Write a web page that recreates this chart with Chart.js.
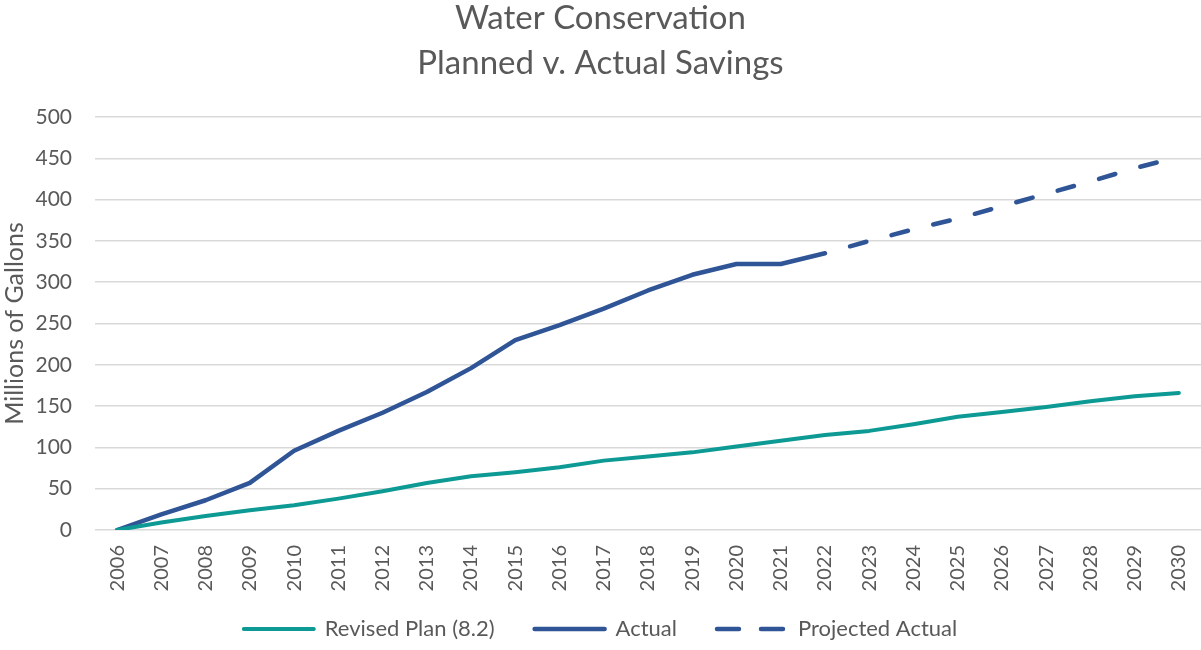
<!DOCTYPE html>
<html>
<head>
<meta charset="utf-8">
<title>Water Conservation</title>
<script src="https://cdn.jsdelivr.net/npm/chart.js@4/dist/chart.umd.min.js"></script>
<style>
  html, body { margin: 0; padding: 0; background: #fff; }
  #chart { display: block; }
</style>
</head>
<body>
<canvas id="chart" width="1201" height="650"></canvas>
<script>
const years = ['2006', '2007', '2008', '2009', '2010', '2011', '2012', '2013', '2014',
  '2015', '2016', '2017', '2018', '2019', '2020', '2021', '2022', '2023', '2024',
  '2025', '2026', '2027', '2028', '2029', '2030'];

// millions of gallons saved, cumulative
const revisedPlan = [0, 9, 17, 24, 30, 38, 47, 57, 65, 70, 76, 84, 89, 94, 101, 108, 115,
  120, 128, 137, 143, 149, 156, 162, 166];
const actual = [0, 19, 36, 57, 96, 120, 142, 167, 196, 230, 248, 268, 290, 309, 322, 322, 335];
const projected = [null, null, null, null, null, null, null, null, null, null, null, null,
  null, null, null, null, 335, 350, 364, 377, 392, 407, 422, 438, 452];

const yTicks = { min: 0, max: 500, step: 50 };

const grey = '#595959';
const teal = '#0E9A94';
const blue = '#2F5597';
const font = 'Lato';

// the legend wants wide gaps between entries but only a short box at the bottom,
// so shrink its reserved height and let its top reach back up by the same amount
const LEGEND_TRIM = 22;
const legendTrim = {
  id: 'legendTrim',
  beforeLayout(chart) {
    const lg = chart.legend;
    if (lg && !lg._trimmed) {
      const fit = lg.fit;
      lg.fit = function () {
        fit.call(this);
        this.height -= LEGEND_TRIM;
      };
      lg._trimmed = true;
    }
  },
  afterLayout(chart) {
    if (chart.legend) chart.legend.top -= LEGEND_TRIM;
  }
};

const ctx = document.getElementById('chart');

new Chart(ctx, {
  type: 'line',
  data: {
    labels: years,
    datasets: [
      {
        label: 'Revised Plan (8.2)',
        data: revisedPlan,
        borderColor: teal,
        backgroundColor: teal,
        borderWidth: 4,
        borderCapStyle: 'round',
        borderJoinStyle: 'round',
        pointRadius: 0,
        pointStyle: 'line',
        tension: 0
      },
      {
        label: 'Actual',
        data: actual,
        borderColor: blue,
        backgroundColor: blue,
        borderWidth: 4.5,
        borderCapStyle: 'round',
        borderJoinStyle: 'round',
        pointRadius: 0,
        pointStyle: 'line',
        tension: 0
      },
      {
        label: 'Projected Actual',
        data: projected,
        borderColor: blue,
        backgroundColor: blue,
        borderWidth: 4.5,
        borderDash: [17, 26],
        borderDashOffset: 17,
        borderCapStyle: 'round',
        pointRadius: 0,
        pointStyle: 'line',
        tension: 0
      }
    ]
  },
  plugins: [legendTrim],
  options: {
    responsive: false,
    animation: false,
    layout: { padding: 0 },
    plugins: {
      tooltip: { enabled: false },
      title: {
        display: true,
        text: ['Water Conservation', 'Planned v. Actual Savings'],
        color: grey,
        font: { family: font, size: 33, weight: 'normal', lineHeight: 1.364 },
        padding: { top: -4, bottom: 31 }
      },
      legend: {
        position: 'bottom',
        labels: {
          color: grey,
          font: { family: font, size: 22 },
          usePointStyle: true,
          pointStyleWidth: 70,
          padding: 40,
          // legend swatches drawn as short strokes in each series' own line style
          generateLabels(chart) {
            const items = Chart.defaults.plugins.legend.labels.generateLabels(chart);
            items.forEach(item => {
              const ds = chart.data.datasets[item.datasetIndex];
              item.lineWidth = ds.borderWidth;
              item.strokeStyle = ds.borderColor;
              item.lineCap = 'round';
              item.lineDash = ds.borderDash ? [22, 22] : [];
              item.lineDashOffset = 0;
            });
            return items;
          }
        }
      }
    },
    scales: {
      x: {
        grid: { display: false, drawTicks: false },
        border: { display: false },
        offset: true,
        ticks: {
          color: grey,
          font: { family: font, size: 20 },
          minRotation: 90,
          maxRotation: 90,
          padding: 15,
          autoSkip: false
        },
        afterFit(scale) {
          scale.height = 70;
          scale.paddingLeft = 0;
          scale.paddingRight = 0;
        }
      },
      y: {
        min: yTicks.min,
        max: yTicks.max,
        grid: { color: '#D9D9D9', lineWidth: 1.5, drawTicks: false },
        border: { display: false },
        ticks: {
          stepSize: yTicks.step,
          color: grey,
          font: { family: font, size: 21 },
          padding: 23
        },
        title: {
          display: true,
          text: 'Millions of Gallons',
          color: grey,
          font: { family: font, size: 25 },
          padding: { top: 0, bottom: 0 }
        },
        afterFit(scale) { scale.width = 95; }
      }
    }
  }
});
</script>
</body>
</html>
